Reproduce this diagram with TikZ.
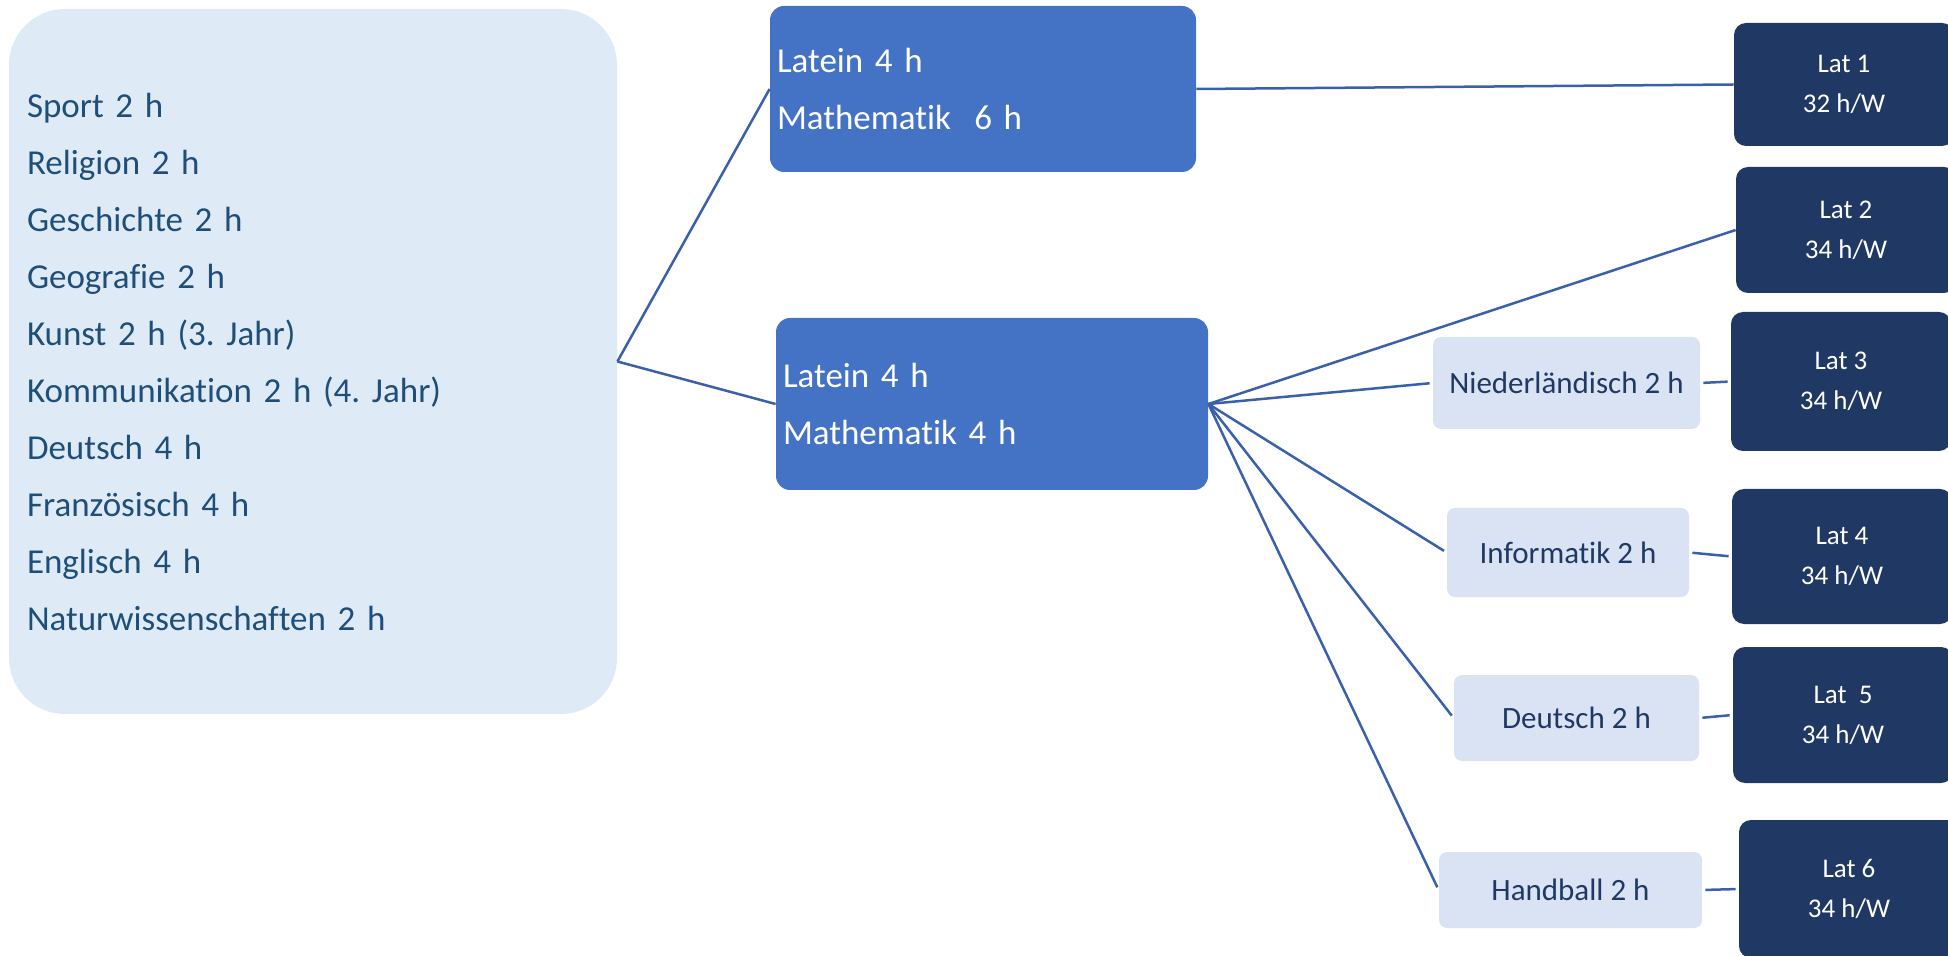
\documentclass[tikz,border=0pt]{standalone}
\usepackage{fontspec}
\setmainfont{Carlito}[Ligatures=NoCommon]
\frenchspacing

\definecolor{basefill}{HTML}{DEEBF7}
\definecolor{basetext}{HTML}{1F4E79}
\definecolor{mathfill}{HTML}{4472C4}
\definecolor{optfill}{HTML}{DAE3F3}
\definecolor{opttext}{HTML}{203864}
\definecolor{latfill}{HTML}{203864}
\definecolor{linkcol}{HTML}{3A60AC}

\tikzset{
    base/.style={fill=basefill, text=basetext, rounded corners=28pt, align=left,
        inner xsep=9pt, text width=286pt, minimum height=352.5pt,
        font=\fontsize{17.5}{28.5}\selectfont},
    math/.style={fill=mathfill, text=white, rounded corners=7pt, align=left,
        inner xsep=3.5pt, font=\fontsize{17.5}{28.5}\selectfont},
    opt/.style={fill=optfill, text=opttext, rounded corners=4pt, inner sep=0pt,
        font=\fontsize{15.5}{18}\selectfont},
    lat/.style={fill=latfill, text=white, rounded corners=6pt, align=center,
        inner sep=0pt, minimum width=110pt, font=\fontsize{13.5}{20}\selectfont},
    link/.style={draw=linkcol, line width=1.25pt}
}

\begin{document}
\begin{tikzpicture}[x=0.5pt, y=-0.5pt]
    \path[use as bounding box] (0,0) rectangle (1948,956);
    \clip (0,0) rectangle (1948,956);

    \node[base] (base) at (313,361.5) {Sport 2 h\\ Religion 2 h\\ Geschichte 2 h\\ Geografie 2 h\\
        Kunst 2 h (3. Jahr)\\ Kommunikation 2 h (4. Jahr)\\ Deutsch 4 h\\ Französisch 4 h\\
        Englisch 4 h\\ Naturwissenschaften 2 h};

    \node[math, text width=206pt, minimum height=83pt] (m1) at (983,89) {Latein 4 h\\ Mathematik\ \ 6 h};
    \node[math, text width=209pt, minimum height=86pt] (m2) at (992,404) {Latein 4 h\\ Mathematik 4 h};

    \node[opt, minimum width=133.5pt, minimum height=46pt] (nl) at (1566.5,383) {Niederländisch 2 h};
    \node[opt, minimum width=121pt, minimum height=44.5pt] (inf) at (1568,552.5) {Informatik 2 h};
    \node[opt, minimum width=122.5pt, minimum height=43pt] (de) at (1576.5,718) {Deutsch 2 h};
    \node[opt, minimum width=131.5pt, minimum height=38pt] (hb) at (1570.5,890) {Handball 2 h};

    \node[lat, minimum height=61.5pt] (lat1) at (1844,84.5) {Lat 1\\ 32 h/W};
    \node[lat, minimum height=63pt] (lat2) at (1846,230) {Lat 2\\ 34 h/W};
    \node[lat, minimum height=69.5pt] (lat3) at (1841,381.5) {Lat 3\\ 34 h/W};
    \node[lat, minimum height=67.5pt] (lat4) at (1842,556.5) {Lat 4\\ 34 h/W};
    \node[lat, minimum height=68pt] (lat5) at (1843,715) {Lat\ \ 5\\ 34 h/W};
    \node[lat, minimum height=69pt] (lat6) at (1849,889) {Lat 6\\ 34 h/W};

    \draw[link] (base.east) -- (m1.west);
    \draw[link] (base.east) -- (m2.west);
    \draw[link] (m1.east) -- (lat1.west);
    \draw[link] (m2.east) -- (lat2.west);
    \foreach \t in {nl,inf,de,hb}
        \draw[link, shorten >=1.5pt] (m2.east) -- (\t.west);
    \draw[link, shorten <=1.5pt, shorten >=1.5pt] (nl.east) -- (lat3.west);
    \draw[link, shorten <=1.5pt, shorten >=1.5pt] (inf.east) -- (lat4.west);
    \draw[link, shorten <=1.5pt, shorten >=1.5pt] (de.east) -- (lat5.west);
    \draw[link, shorten <=1.5pt, shorten >=1.5pt] (hb.east) -- (lat6.west);
\end{tikzpicture}
\end{document}
